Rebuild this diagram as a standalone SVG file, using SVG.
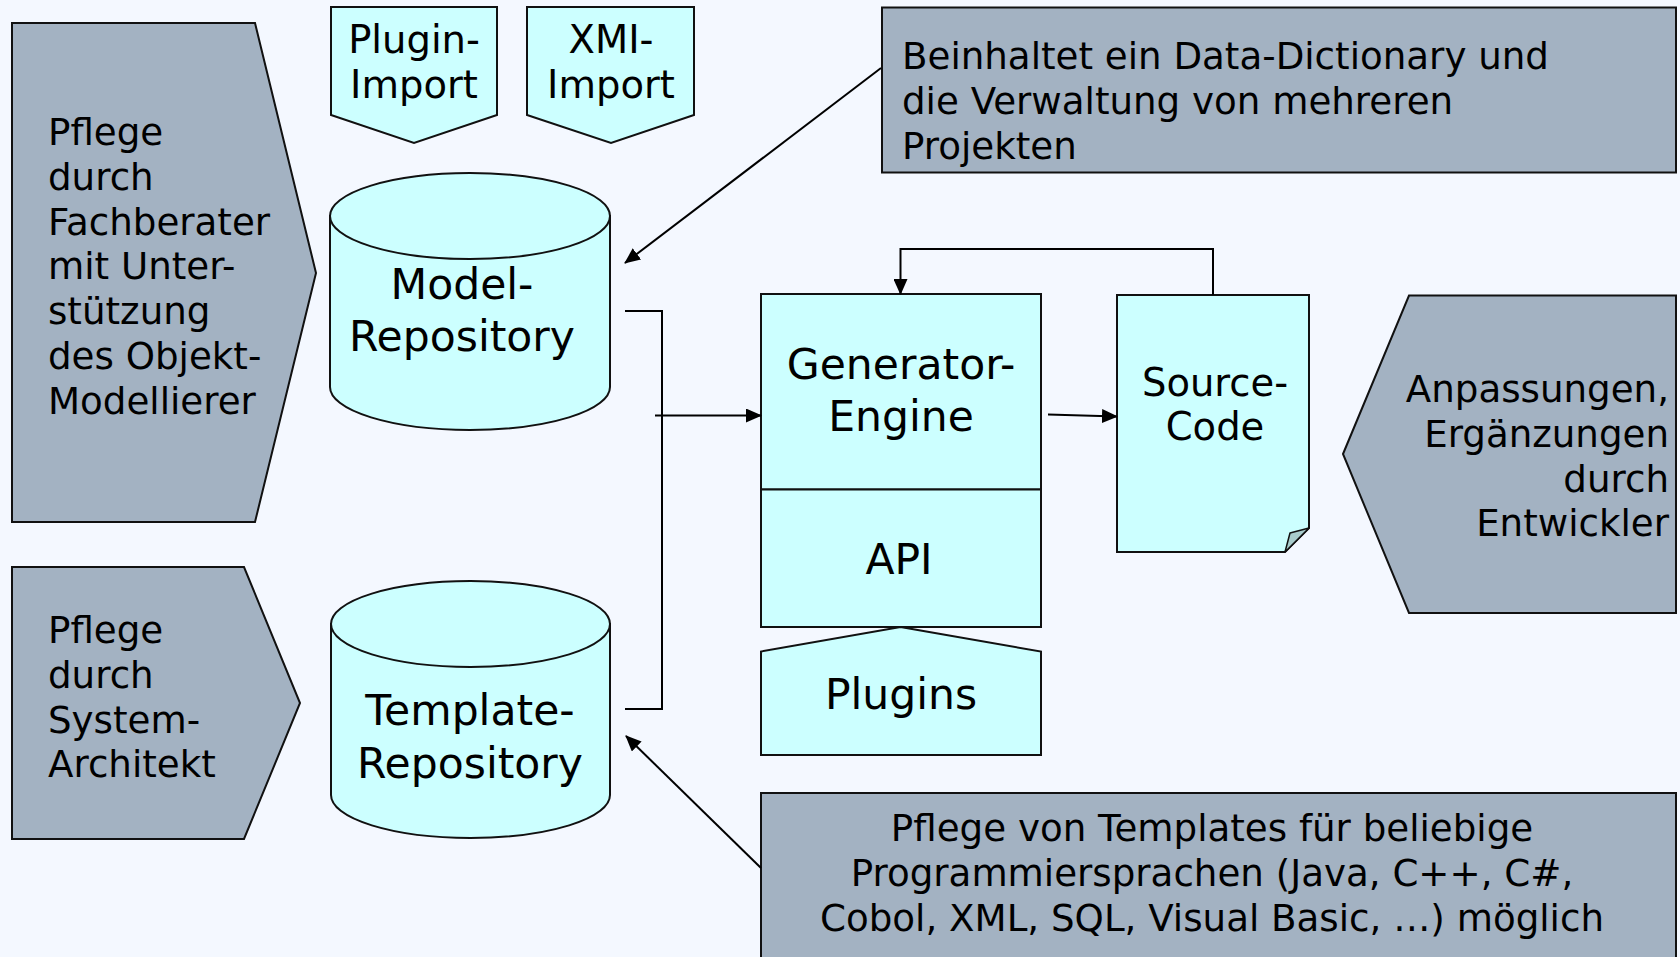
<svg xmlns="http://www.w3.org/2000/svg" width="1680" height="957" viewBox="0 0 1680 957">
  <style>
    text { font-family: "DejaVu Sans", Verdana, sans-serif; fill: #000; }
    .gray { fill: #A3B2C2; stroke: #111; stroke-width: 2; }
    .cyan { fill: #CCFFFF; stroke: #111; stroke-width: 2; }
    .fold { fill: #A8CCCC; stroke: #111; stroke-width: 1.5; stroke-linejoin: round; }
    .big { font-size: 42.5px; text-anchor: middle; }
    .mid { font-size: 38.5px; text-anchor: middle; }
    .small { font-size: 37.2px; }
    .wire { fill: none; stroke: #000; stroke-width: 2; }
  </style>
  <defs>
    <marker id="arrow" markerUnits="userSpaceOnUse" markerWidth="16" markerHeight="14" refX="15" refY="7" orient="auto">
      <path d="M0,0 L16,7 L0,14 Z" fill="#000"/>
    </marker>
  </defs>

  <rect x="0" y="0" width="1680" height="957" fill="#F4F8FF"/>

  <!-- role hints (left) -->
  <g id="fachberater">
    <polygon class="gray" points="12,23 255,23 316,273 255,522 12,522"/>
    <text class="small" x="48" y="145">Pflege</text>
    <text class="small" x="48" y="190">durch</text>
    <text class="small" x="48" y="235">Fachberater</text>
    <text class="small" x="48" y="279">mit Unter-</text>
    <text class="small" x="48" y="324">stützung</text>
    <text class="small" x="48" y="369">des Objekt-</text>
    <text class="small" x="48" y="414">Modellierer</text>
  </g>

  <g id="systemarchitekt">
    <polygon class="gray" points="12,567 244,567 300,703 244,839 12,839"/>
    <text class="small" x="48" y="643">Pflege</text>
    <text class="small" x="48" y="688">durch</text>
    <text class="small" x="48" y="733">System-</text>
    <text class="small" x="48" y="777">Architekt</text>
  </g>

  <!-- importers -->
  <g id="plugin-import">
    <polygon class="cyan" points="331,7 497,7 497,115 414,143 331,115"/>
    <text class="mid" x="414" y="53">Plugin-</text>
    <text class="mid" x="414" y="98">Import</text>
  </g>

  <g id="xmi-import">
    <polygon class="cyan" points="527,7 694,7 694,115 611,143 527,115"/>
    <text class="mid" x="611" y="53">XMI-</text>
    <text class="mid" x="611" y="98">Import</text>
  </g>

  <!-- repositories -->
  <g id="model-repository">
    <path class="cyan" d="M330,216 L330,387 A140,43 0 0 0 610,387 L610,216 Z"/>
    <ellipse class="cyan" cx="470" cy="216" rx="140" ry="43"/>
    <text class="big" x="462" y="299">Model-</text>
    <text class="big" x="462" y="351">Repository</text>
  </g>

  <g id="template-repository">
    <path class="cyan" d="M331,624 L331,795 A139.5,43 0 0 0 610,795 L610,624 Z"/>
    <ellipse class="cyan" cx="470.5" cy="624" rx="139.5" ry="43"/>
    <text class="big" x="470" y="725">Template-</text>
    <text class="big" x="470" y="778">Repository</text>
  </g>

  <!-- generator -->
  <g id="generator-engine">
    <rect class="cyan" x="761" y="294" width="280" height="195.5"/>
    <text class="big" x="901" y="379">Generator-</text>
    <text class="big" x="901" y="431">Engine</text>
  </g>

  <g id="api">
    <rect class="cyan" x="761" y="489.5" width="280" height="137.5"/>
    <text class="big" x="899" y="574">API</text>
  </g>

  <g id="plugins">
    <polygon class="cyan" points="900.5,627 1041,651.5 1041,755 761,755 761,651.5"/>
    <text class="big" x="901" y="709">Plugins</text>
  </g>

  <g id="source-code">
    <path class="cyan" d="M1117,295 H1309 V528 L1285,552 H1117 Z"/>
    <polygon class="fold" points="1309,528 1285,552 1290,533"/>
    <text class="mid" x="1215" y="396">Source-</text>
    <text class="mid" x="1215" y="440">Code</text>
  </g>

  <!-- notes -->
  <g id="note-data-dictionary">
    <rect class="gray" x="882" y="7.5" width="794" height="165"/>
    <text class="small" x="902" y="69">Beinhaltet ein Data-Dictionary und</text>
    <text class="small" x="902" y="114">die Verwaltung von mehreren</text>
    <text class="small" x="902" y="159">Projekten</text>
  </g>

  <g id="entwickler">
    <polygon class="gray" points="1343,454 1409,295.5 1676,295.5 1676,613 1409,613"/>
    <text class="small" x="1669" y="402" text-anchor="end">Anpassungen,</text>
    <text class="small" x="1669" y="447" text-anchor="end">Ergänzungen</text>
    <text class="small" x="1669" y="491.5" text-anchor="end">durch</text>
    <text class="small" x="1669" y="536" text-anchor="end">Entwickler</text>
  </g>

  <g id="note-templates">
    <rect class="gray" x="761" y="793" width="915" height="175"/>
    <text class="small" x="1212" y="841" text-anchor="middle">Pflege von Templates für beliebige</text>
    <text class="small" x="1212" y="886" text-anchor="middle">Programmiersprachen (Java, C++, C#,</text>
    <text class="small" x="1212" y="931" text-anchor="middle">Cobol, XML, SQL, Visual Basic, …) möglich</text>
  </g>

  <!-- connectors -->
  <g id="connectors">
    <polyline class="wire" points="625,311 662,311 662,709 625,709"/>
    <line class="wire" x1="655" y1="415.5" x2="761" y2="415.5" marker-end="url(#arrow)"/>
    <line class="wire" x1="1048" y1="414.5" x2="1117" y2="416.5" marker-end="url(#arrow)"/>
    <polyline class="wire" points="1213,295 1213,249 900.5,249 900.5,294" marker-end="url(#arrow)"/>
    <line class="wire" x1="881" y1="68" x2="625" y2="263" marker-end="url(#arrow)"/>
    <line class="wire" x1="761" y1="868" x2="626" y2="736" marker-end="url(#arrow)"/>
  </g>
</svg>
